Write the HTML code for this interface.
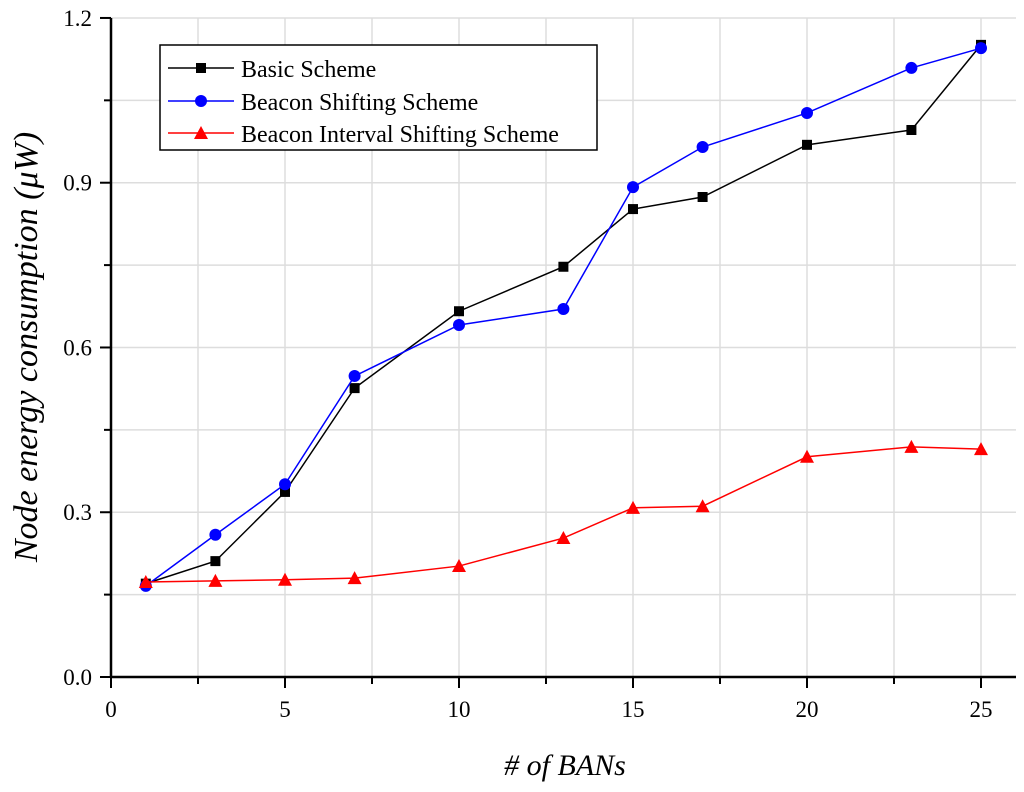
<!DOCTYPE html>
<html><head><meta charset="utf-8"><style>
body{margin:0;background:#fff;}
svg text{font-family:"Liberation Serif",serif;}
</style></head><body>
<svg width="1024" height="787" xmlns="http://www.w3.org/2000/svg">
<g id="grid"></g>
<g id="axes"></g>
<g id="series"></g>
<text x="565" y="775" font-size="30" font-style="italic" text-anchor="middle"># of BANs</text>
<text transform="translate(37,347) rotate(-90)" font-size="34" font-style="italic" text-anchor="middle">Node energy consumption (μW)</text>
<g>
<rect x="160" y="45" width="437" height="105" fill="#fff" stroke="#000" stroke-width="1.5"/>
<g><line x1="168" y1="68" x2="234" y2="68" stroke="#000" stroke-width="1.5"/><rect x="196" y="63" width="10" height="10" fill="#000"/><text x="241" y="77" font-size="24">Basic Scheme</text></g>
<g><line x1="168" y1="101" x2="234" y2="101" stroke="#00f" stroke-width="1.5"/><circle cx="201" cy="101" r="6" fill="#00f"/><text x="241" y="110" font-size="24">Beacon Shifting Scheme</text></g>
<g><line x1="168" y1="133" x2="234" y2="133" stroke="#f00" stroke-width="1.5"/><polygon points="201,126 208,139 194,139" fill="#f00"/><text x="241" y="142" font-size="24">Beacon Interval Shifting Scheme</text></g>
</g>
</svg>
<script>
const xs=[1,3,5,7,10,13,15,17,20,23,25];
const basic=[0.17,0.211,0.337,0.526,0.666,0.747,0.852,0.874,0.969,0.996,1.151];
const beaconShift=[0.166,0.259,0.351,0.548,0.641,0.670,0.892,0.965,1.027,1.109,1.145];
const intervalShift=[0.173,0.175,0.177,0.180,0.202,0.253,0.308,0.311,0.401,0.419,0.415];
const xTicks=[0,5,10,15,20,25];
const yTicks=[0.0,0.3,0.6,0.9,1.2];
const NS="http://www.w3.org/2000/svg";
const X=v=>111+v*34.8, Y=v=>677-v*549.2;
function mk(t,a,p){const e=document.createElementNS(NS,t);for(const k in a)e.setAttribute(k,a[k]);p.appendChild(e);return e;}
const grid=document.getElementById('grid'),axes=document.getElementById('axes'),ser=document.getElementById('series');
for(let v=2.5;v<=35;v+=2.5){if(X(v)>1016)break;const l=mk('line',{x1:X(v),x2:X(v),y1:18,y2:677,stroke:'#ddd','stroke-width':1.5},grid);

}
for(let v=0.15;v<=1.21;v+=0.15){const l=mk('line',{x1:111,x2:1016,y1:Y(v),y2:Y(v),stroke:'#ddd','stroke-width':1.5},grid);

}
mk('line',{x1:111,x2:1016,y1:677,y2:677,stroke:'#000','stroke-width':2.5},axes);
mk('line',{x1:111,x2:111,y1:18,y2:678,stroke:'#000','stroke-width':2.5},axes);
for(let v=0;v<=27.5;v+=2.5){if(X(v)>1016)break;mk('line',{x1:X(v),x2:X(v),y1:677,y2:v%5==0?688:684,stroke:'#000','stroke-width':2},axes);}
for(let v=0;v<=1.21;v+=0.15){mk('line',{x1:111,x2:Math.round(v/0.15)%2==0?100:104,y1:Y(v),y2:Y(v),stroke:'#000','stroke-width':2},axes);}
xTicks.forEach(v=>{const t=mk('text',{x:X(v),y:717,'font-size':23,'text-anchor':'middle'},axes);t.textContent=v;

});
yTicks.forEach(v=>{const t=mk('text',{x:92,y:Y(v)+8,'font-size':23,'text-anchor':'end'},axes);t.textContent=v.toFixed(1);

});
function line(vals,col,name,shape){const g=mk('g',{},ser);


mk('polyline',{points:xs.map((x,i)=>X(x)+','+Y(vals[i])).join(' '),fill:'none',stroke:col,'stroke-width':1.5},g);
xs.forEach((x,i)=>{const cx=X(x),cy=Y(vals[i]);let m;
if(shape=='sq')m=mk('rect',{x:cx-5,y:cy-5,width:10,height:10,fill:col},g);
else if(shape=='c')m=mk('circle',{cx:cx,cy:cy,r:6,fill:col},g);
else m=mk('polygon',{points:`${cx},${cy-7} ${cx+7},${cy+6} ${cx-7},${cy+6}`,fill:col},g);

});}
line(basic,'#000','basic-scheme','sq');
line(beaconShift,'#00f','beacon-shifting-scheme','c');
line(intervalShift,'#f00','beacon-interval-shifting-scheme','t');
</script>
</body></html>
